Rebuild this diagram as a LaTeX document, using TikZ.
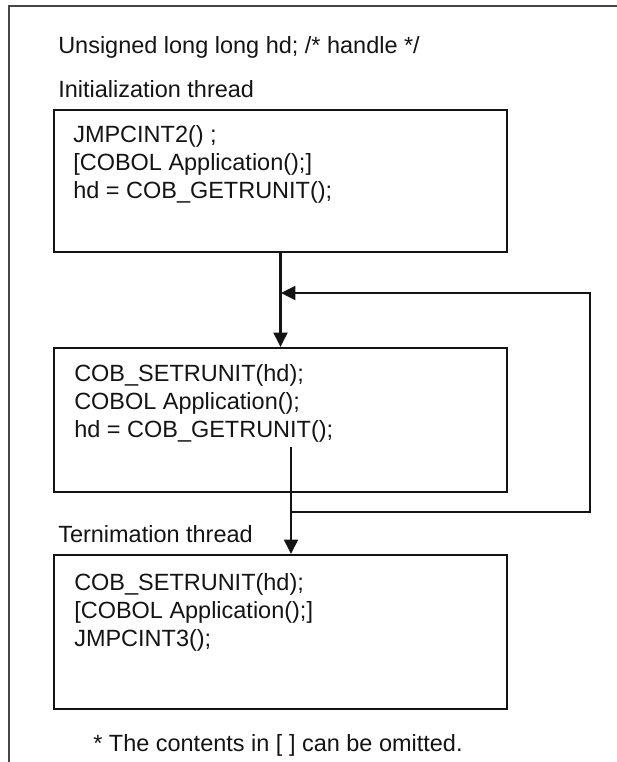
\documentclass[tikz,border=0pt]{standalone}
\usepackage{fontspec}
\setmainfont{Liberation Sans}
\usetikzlibrary{arrows.meta,positioning,calc}
\definecolor{frame}{RGB}{70,70,70}
\definecolor{ink}{RGB}{20,20,20}

\begin{document}
\begin{tikzpicture}[x=0.25mm, y=-0.25mm,
    >={Triangle[length=3.6mm,width=3.5mm]},
    font=\fontsize{16.7}{19.9}\selectfont,
    box/.style={rectangle, draw=ink, line width=0.55mm, minimum width=113.25mm,
                inner sep=0pt},
    code/.style={anchor=base west, align=left, inner sep=0pt, text=ink},
    lbl/.style={anchor=base west, inner sep=0pt, text=ink},
    arr/.style={->, line width=0.55mm, draw=ink},
  ]
    \useasboundingbox (0,0) rectangle (617,762);
    \draw[line width=0.55mm, draw=frame] (617,6) -- (9,6) -- (9,762);

    \node[lbl]  (decl)     at (58,53)  {Unsigned long long hd; /* handle */};
    \node[lbl]  (initlbl)  at (58,97)  {Initialization thread};
    \node[box, minimum height=35.5mm] (init) at (280.5,181) {};
    \node[code] (initcode) at (73,198) {JMPCINT2() ;\\{[COBOL Application();]}\\hd = COB\_GETRUNIT();};

    \node[box, minimum height=36mm] (main) at (280.5,420) {};
    \node[code] (maincode) at (74,437) {COB\_SETRUNIT(hd);\\COBOL Application();\\hd = COB\_GETRUNIT();};

    \node[lbl]  (termlbl)  at (58,542) {Ternimation thread};
    \node[box, minimum height=38.5mm] (term) at (280.5,632) {};
    \node[code] (termcode) at (74,646) {COB\_SETRUNIT(hd);\\{[COBOL Application();]}\\JMPCINT3();};

    \node[lbl]  (note)     at (93,751) {* The contents in [ ] can be omitted.};

    \coordinate (getrun) at (291,447);
    \coordinate (back)   at (291,512);
    \coordinate (corner) at (590,293);
    \coordinate (join)   at (281,293);

    \draw[arr] (init.south) -- (main.north);
    \draw[arr] (getrun) -- (getrun |- term.north);
    \draw[arr] (back) -| (corner) -- (join);
  \end{tikzpicture}
\end{document}
